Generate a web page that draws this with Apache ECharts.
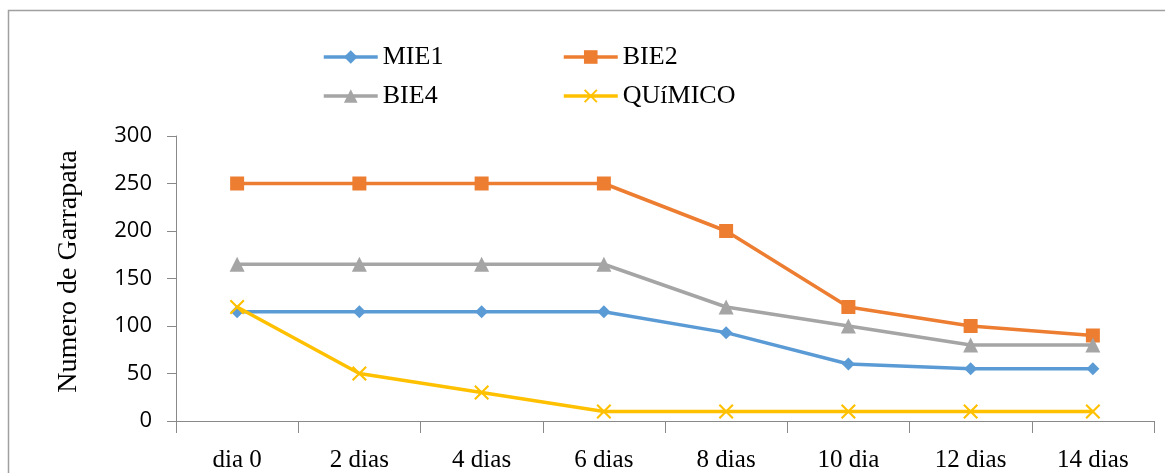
<!DOCTYPE html>
<html><head><meta charset="utf-8">
<script src="https://cdn.jsdelivr.net/npm/echarts@6/dist/echarts.min.js"></script>
<style>html,body{margin:0;padding:0;background:#fff}#c{width:1165px;height:473px}</style>
</head><body><div id="c"></div>
<script>
const categories = ['dia 0','2 dias','4 dias','6 dias','8 dias','10 dia','12 dias','14 dias'];
const yTicks = [0,50,100,150,200,250,300];
const seriesNames = ['MIE1','BIE2','BIE4','QUíMICO'];
const mie1 = [115,115,115,115,93,60,55,55];
const bie2 = [250,250,250,250,200,120,100,90];
const bie4 = [165,165,165,165,120,100,80,80];
const quimico = [120,50,30,10,10,10,10,10];

const colors = ['#5B9BD5','#ED7D31','#A5A5A5','#FFC000'];
const xPath = 'path://M0,1L1,0L5,4L9,0L10,1L6,5L10,9L9,10L5,6L1,10L0,9L4,5Z';
const symbols = ['diamond','rect','triangle',xPath];
const sizes = [13,14,15,15];
const values = [mie1,bie2,bie4,quimico];
const serif = '"Liberation Serif", "DejaVu Serif", serif';

const legendPos = [[322,44],[562,44],[322,83],[562,83]];
const legends = seriesNames.map((n,i)=>({
  data:[n], left:legendPos[i][0], top:legendPos[i][1], padding:0,
  itemWidth:54, itemHeight:17, itemGap:6,
  lineStyle:{width:3.5},
  textStyle:{fontFamily:serif,fontSize:26,color:'#000'}
}));

const chart = echarts.init(document.getElementById('c'));
chart.setOption({
  animation:false,
  backgroundColor:'#fff',
  graphic:[{type:'rect',shape:{x:8.5,y:10.5,width:1170,height:480},style:{fill:'none',stroke:'#a0a0a0',lineWidth:1.5},silent:true}],
  legend: legends,
  grid:{left:176,right:11,top:136,bottom:50},
  xAxis:{
    type:'category', data:categories, boundaryGap:true,
    axisLine:{lineStyle:{color:'#898989',width:1}},
    axisTick:{show:true,length:12,lineStyle:{color:'#898989'}},
    axisLabel:{fontFamily:serif,fontSize:25,color:'#000',margin:27}
  },
  yAxis:{
    type:'value', min:yTicks[0], max:yTicks[yTicks.length-1], interval:50,
    name:'Numero de Garrapata', nameLocation:'middle', nameGap:93,
    nameTextStyle:{fontFamily:serif,fontSize:28,color:'#000',padding:[0,0,0,14]},
    axisLine:{show:true,lineStyle:{color:'#898989',width:1}},
    axisTick:{show:true,length:9,lineStyle:{color:'#898989'}},
    splitLine:{show:false},
    axisLabel:{fontFamily:'"Open Sans", "Noto Sans", sans-serif',fontSize:22,color:'#000',margin:24}
  },
  series: seriesNames.map((n,i)=>({
    name:n, type:'line', data:values[i],
    symbol:symbols[i], symbolSize:sizes[i], showSymbol:true,
    lineStyle:{color:colors[i],width:3.5},
    itemStyle:{color:colors[i]},
    z: 2+i
  }))
});
</script></body></html>
